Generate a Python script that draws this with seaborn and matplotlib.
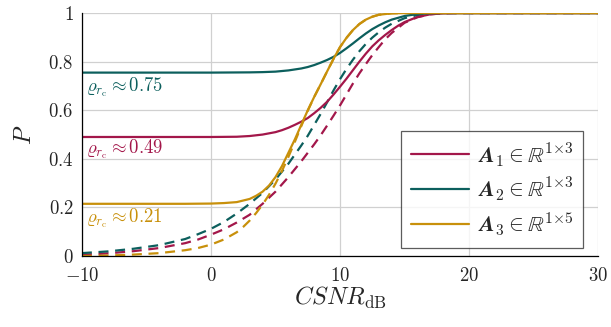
import numpy as np
import pandas as pd
import matplotlib
matplotlib.use("Agg")
import matplotlib.pyplot as plt
import seaborn as sns

# ---- data ----
x_a1 = [-10, -5, 0, 2, 3, 4, 5, 5.5, 6, 6.5, 7, 7.5, 8, 8.5, 9, 9.5, 10, 10.5, 11, 11.5,
        12, 12.5, 13, 13.5, 14, 14.5, 15, 16, 17, 18, 19, 20, 30]
p_a1 = [0.49, 0.49, 0.49, 0.491, 0.494, 0.50, 0.51, 0.518, 0.528, 0.54, 0.553, 0.568, 0.588,
        0.61, 0.635, 0.665, 0.697, 0.73, 0.765, 0.80, 0.833, 0.863, 0.888, 0.91, 0.93, 0.948,
        0.963, 0.984, 0.995, 0.999, 1.0, 1.0, 1.0]

x_a2 = [-10, -5, 0, 3, 4, 5, 6, 7, 7.5, 8, 8.5, 9, 9.5, 10, 10.5, 11, 11.5, 12, 12.5, 13,
        13.5, 14, 15, 16, 17, 18, 20, 30]
p_a2 = [0.755, 0.755, 0.755, 0.756, 0.757, 0.759, 0.764, 0.772, 0.778, 0.786, 0.796, 0.807,
        0.82, 0.836, 0.855, 0.875, 0.896, 0.916, 0.934, 0.949, 0.962, 0.973, 0.988, 0.996,
        0.999, 1.0, 1.0, 1.0]

x_a3 = [-10, -5, -2, 0, 1, 2, 3, 3.5, 4, 4.5, 5, 5.5, 6, 6.5, 7, 7.5, 8, 8.5, 9, 9.5, 10,
        10.5, 11, 11.5, 12, 12.5, 13, 14, 15, 20, 30]
p_a3 = [0.215, 0.215, 0.215, 0.216, 0.218, 0.222, 0.235, 0.248, 0.265, 0.29, 0.325, 0.37,
        0.425, 0.48, 0.54, 0.6, 0.655, 0.707, 0.76, 0.812, 0.86, 0.898, 0.93, 0.955, 0.973,
        0.985, 0.993, 0.999, 1.0, 1.0, 1.0]

x_a1d = [-10, -8, -6, -4, -2, -1, 0, 1, 2, 3, 4, 5, 6, 7, 7.5, 8, 8.5, 9, 9.5, 10, 10.5,
         11, 11.5, 12, 12.5, 13, 13.5, 14, 15, 16, 17, 18, 19, 20, 30]
p_a1d = [0.005, 0.011, 0.02, 0.033, 0.053, 0.068, 0.088, 0.11, 0.138, 0.17, 0.215, 0.265,
         0.325, 0.39, 0.425, 0.46, 0.497, 0.537, 0.578, 0.62, 0.665, 0.71, 0.752, 0.79,
         0.827, 0.86, 0.892, 0.918, 0.96, 0.983, 0.995, 0.999, 1.0, 1.0, 1.0]

x_a2d = [-10, -8, -6, -4, -2, -1, 0, 1, 2, 3, 4, 5, 6, 7, 7.5, 8, 8.5, 9, 9.5, 10, 10.5,
         11, 11.5, 12, 12.5, 13, 13.5, 14, 15, 16, 17, 18, 20, 30]
p_a2d = [0.012, 0.019, 0.03, 0.045, 0.07, 0.09, 0.112, 0.14, 0.175, 0.215, 0.26, 0.315, 0.38,
         0.455, 0.495, 0.54, 0.585, 0.633, 0.682, 0.728, 0.77, 0.808, 0.843, 0.873, 0.899,
         0.921, 0.94, 0.956, 0.979, 0.992, 0.998, 1.0, 1.0, 1.0]

x_a3d = [-10, -8, -6, -4, -2, -1, 0, 1, 2, 2.5, 3, 3.5, 4, 4.5, 5, 5.5, 6, 6.5, 7, 7.5, 8,
         8.5, 9, 9.5, 10, 10.5, 11, 11.5, 12, 12.5, 13, 14, 15, 20, 30]
p_a3d = [0.0, 0.002, 0.006, 0.012, 0.024, 0.033, 0.047, 0.068, 0.098, 0.12, 0.146, 0.177,
         0.212, 0.252, 0.298, 0.35, 0.408, 0.47, 0.535, 0.598, 0.655, 0.707, 0.76, 0.812,
         0.86, 0.898, 0.93, 0.955, 0.973, 0.985, 0.993, 0.999, 1.0, 1.0, 1.0]

legend_labels = [r"$\mathbfit{A}_1 \in \mathbb{R}^{1{\times}3}$",
                 r"$\mathbfit{A}_2 \in \mathbb{R}^{1{\times}3}$",
                 r"$\mathbfit{A}_3 \in \mathbb{R}^{1{\times}5}$"]
rho_labels = [r"$\varrho_{r_\mathrm{c}} \approx 0.49$",
              r"$\varrho_{r_\mathrm{c}} \approx 0.75$",
              r"$\varrho_{r_\mathrm{c}} \approx 0.21$"]
rho_pos_y = [0.44, 0.695, 0.156]

x_ticks = [-10, 0, 10, 20, 30]
y_ticks = [0, 0.2, 0.4, 0.6, 0.8, 1]
y_ticklabels = ["0", "0.2", "0.4", "0.6", "0.8", "1"]

colors = ["#A3174A", "#0C5F5D", "#C8900B"]

# ---- style ----
sns.set_theme(style="white")
plt.rcParams["font.family"] = ["serif"]
plt.rcParams["font.serif"] = ["cmr10", "DejaVu Serif"]
plt.rcParams["mathtext.fontset"] = "cm"
plt.rcParams["axes.formatter.use_mathtext"] = True
plt.rcParams["axes.unicode_minus"] = True

fig = plt.figure(figsize=(6.11, 3.27), dpi=100)
ax = fig.add_axes([0.134, 0.217, 0.845, 0.743])

solid = [(x_a1, p_a1), (x_a2, p_a2), (x_a3, p_a3)]
dashed = [(x_a1d, p_a1d), (x_a2d, p_a2d), (x_a3d, p_a3d)]

lw = 1.6
for (xs, ps), c in zip(dashed, colors):
    sns.lineplot(x=xs, y=ps, ax=ax, color=c, lw=lw, linestyle=(0, (4.5, 3.0)), sort=True)
handles = []
for (xs, ps), c, lab in zip(solid, colors, legend_labels):
    sns.lineplot(x=xs, y=ps, ax=ax, color=c, lw=lw, sort=True)
    handles.append(plt.Line2D([], [], color=c, lw=lw, label=lab))

for lab, yy, c in zip(rho_labels, rho_pos_y, colors):
    ax.text(-9.65, yy, lab, color=c, fontsize=13.5, va="center", ha="left")

ax.set_xlim(-10, 30)
ax.set_ylim(0, 1)
ax.set_xticks(x_ticks)
ax.set_xticklabels([f"${v}$" if v >= 0 else f"$-{abs(v)}$" for v in x_ticks])
ax.set_yticks(y_ticks)
ax.set_yticklabels([f"${s}$" for s in y_ticklabels])
ax.tick_params(axis="both", direction="in", length=4, width=1.0, color="#bbbbbb",
               labelsize=13.5)
ax.tick_params(axis="x", pad=8)
ax.tick_params(axis="y", pad=6)
ax.grid(True, color="#d0d0d0", lw=0.9)
ax.set_axisbelow(True)
for s in ["top", "right"]:
    ax.spines[s].set_visible(False)
for s in ["left", "bottom"]:
    ax.spines[s].set_color("black")
    ax.spines[s].set_linewidth(0.9)

ax.set_xlabel(r"$CSNR_\mathrm{dB}$", fontsize=17.5, labelpad=0)
ax.set_ylabel(r"$P$", fontsize=17.5, labelpad=9)

leg = ax.legend(handles=handles, loc="lower right", bbox_to_anchor=(0.971, 0.033),
                borderaxespad=0.0,
                fontsize=16, frameon=True, fancybox=False, edgecolor="#333333",
                handlelength=2.6, handletextpad=0.4, borderpad=0.45, labelspacing=0.32)
leg.get_frame().set_linewidth(0.9)

fig.savefig("out.png", dpi=100)
